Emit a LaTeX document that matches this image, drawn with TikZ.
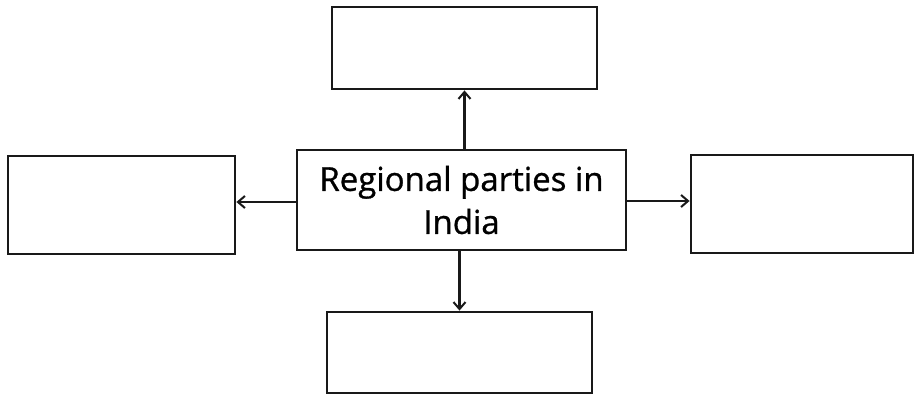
\documentclass[tikz,border=0pt]{standalone}
\usepackage{fontspec}
\setmainfont{Open Sans}
\newfontfamily\boxfont[FakeBold=0.9]{Open Sans}
\usetikzlibrary{arrows.meta}
\begin{document}
\begin{tikzpicture}[x=1pt,y=-1pt,
  box/.style={draw=black!90,line width=2.8pt,inner sep=0pt},
  conn/.style={draw=black!90,line width=2.6pt,-{Straight Barb[length=7pt,width=12pt,line width=2pt]}}]
\useasboundingbox (0,0) rectangle (914,398);
\node[box,minimum width=329pt,minimum height=100pt,align=center,font=\boxfont\fontsize{33}{43}\selectfont] (c) at (461.5,200) {Regional parties in\\India};
\node[box,minimum width=265pt,minimum height=82pt] (t) at (464.5,48) {};
\node[box,minimum width=227pt,minimum height=98pt] (l) at (121.5,205) {};
\node[box,minimum width=222pt,minimum height=98pt] (r) at (802,204) {};
\node[box,minimum width=265pt,minimum height=81pt] (b) at (459.5,352.5) {};
\draw[conn] (c.north -| t.south) coordinate (ct) (ct) -- (t.south -| ct);
\draw[conn] (c.west |- 0,202) coordinate (cl) (cl) -- (l.east |- cl);
\draw[conn] (c.east |- 0,201) coordinate (cr) (cr) -- (r.west |- cr);
\draw[conn] (c.south -| b.north) coordinate (cb) (cb) -- (b.north -| cb);
\end{tikzpicture}
\end{document}
